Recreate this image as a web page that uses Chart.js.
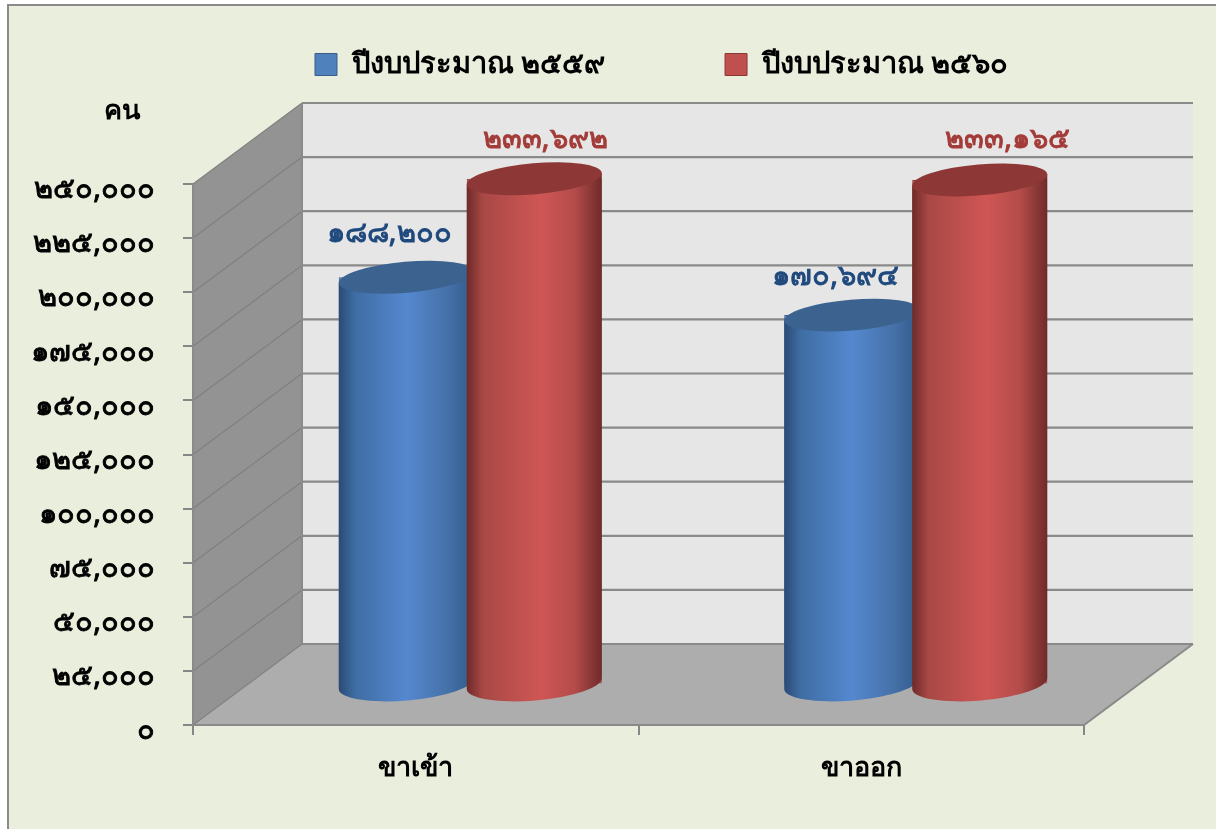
<!DOCTYPE html>
<html>
<head>
<meta charset="utf-8">
<script src="https://cdn.jsdelivr.net/npm/chart.js@4"></script>
<style>
html, body { margin: 0; padding: 0; background: #fff; overflow: hidden; }
#wrap { position: absolute; left: 7px; top: 4px; width: 1209px; height: 825px; background: #eaeedd; border-left: 2px solid #8a8a8a; border-top: 2px solid #8a8a8a; box-sizing: border-box; }
canvas { position: absolute; left: -9px; top: -6px; }
</style>
</head>
<body>
<div id="wrap"><canvas id="chart" width="1216" height="829"></canvas></div>
<script>
// data
const categories = ["ขาเข้า", "ขาออก"];
const seriesNames = ["ปีงบประมาณ ๒๕๕๙", "ปีงบประมาณ ๒๕๖๐"];
const values2559 = [188200, 170694];
const values2560 = [233692, 233165];
const labels2559 = ["๑๘๘,๒๐๐", "๑๗๐,๖๙๔"];
const labels2560 = ["๒๓๓,๖๙๒", "๒๓๓,๑๖๕"];
const yTickLabels = ["๐", "๒๕,๐๐๐", "๕๐,๐๐๐", "๗๕,๐๐๐", "๑๐๐,๐๐๐", "๑๒๕,๐๐๐", "๑๕๐,๐๐๐", "๑๗๕,๐๐๐", "๒๐๐,๐๐๐", "๒๒๕,๐๐๐", "๒๕๐,๐๐๐"];

const FONT = "'Noto Sans', 'DejaVu Sans', sans-serif";
const DX = 109, DY = -81;   // depth of the 3d box
const MID = 0.5;            // bars stand half way in the box
const TILT = -0.085;        // the bar ends look slightly turned
const LEGEND_PAD = 120;     // gap between the two legend items

function cylinderGrad(ctx, x0, x1, stops) {
    const g = ctx.createLinearGradient(x0, 0, x1, 0);
    stops.forEach(s => g.addColorStop(s[0], s[1]));
    return g;
}
const blueStops = [[0, "#2a4a75"], [0.12, "#3f6da3"], [0.5, "#5488cf"], [0.8, "#4672aa"], [1, "#325a8a"]];
const redStops = [[0, "#6e2a28"], [0.12, "#a84846"], [0.55, "#cf5654"], [0.8, "#b34c4a"], [1, "#6f2b29"]];
const labelColors = ["#1f497d", "#a33b38"];
const topColors = ["#3c6390", "#8d3736"];
const labelNudge = [[[-17, -44], [-16, -38]], [[11, -39], [28, -40]]];

const box3d = {
    id: "box3d",
    beforeLayout(chart) {
        // keep the plot below the legend like in the original slide
        const lg = chart.legend;
        if (lg && !lg._patched) {
            const fit = lg.fit;
            lg.fit = function () { fit.call(this); this.height = 184; };
            lg._patched = true;
        }
    },
    afterLayout(chart) {
        const lg = chart.legend;
        lg.left = 315 - LEGEND_PAD;
        lg.right = 1216 + LEGEND_PAD;
        lg.top = 50 - LEGEND_PAD;
    },
    beforeDatasetsDraw(chart) {
        const c = chart.ctx, y = chart.scales.y, a = chart.chartArea;
        const y0 = y.getPixelForValue(0), yTop = y.getPixelForValue(250000);
        // side wall
        c.fillStyle = "#939393";
        c.beginPath();
        c.moveTo(a.left, y0); c.lineTo(a.left + DX, y0 + DY); c.lineTo(a.left + DX, yTop + DY); c.lineTo(a.left, yTop);
        c.closePath(); c.fill();
        // back wall
        c.fillStyle = "#e6e6e6";
        c.fillRect(a.left + DX, yTop + DY, a.right - a.left, y0 - yTop);
        // floor
        c.fillStyle = "#adadad";
        c.beginPath();
        c.moveTo(a.left, y0); c.lineTo(a.right, y0); c.lineTo(a.right + DX, y0 + DY); c.lineTo(a.left + DX, y0 + DY);
        c.closePath(); c.fill();
        // grid lines on both walls
        y.ticks.forEach(t => {
            const p = y.getPixelForValue(t.value);
            c.strokeStyle = "#808080";
            c.lineWidth = 1.2;
            c.beginPath();
            c.moveTo(a.left, p); c.lineTo(a.left + DX, p + DY);
            c.stroke();
            c.lineWidth = 2.2;
            c.strokeStyle = "#8a8a8a";
            c.beginPath();
            c.moveTo(a.left + DX, p + DY); c.lineTo(a.right + DX, p + DY);
            c.stroke();
        });
        c.strokeStyle = "#8a8a8a";
        c.lineWidth = 2;
        c.beginPath();
        c.moveTo(a.left + DX, yTop + DY); c.lineTo(a.left + DX, y0 + DY);
        c.moveTo(a.left, yTop); c.lineTo(a.left, y0); c.lineTo(a.right, y0); c.lineTo(a.right + DX, y0 + DY);
        c.stroke();
    },
    beforeDatasetDraw(chart) {
        chart.ctx.save();
        chart.ctx.translate(DX * MID, DY * MID);
    },
    afterDatasetDraw(chart) {
        chart.ctx.restore();
    },
    afterDatasetsDraw(chart) {
        const c = chart.ctx;
        const ryTop = 15.5, ryBase = 17;
        c.save();
        c.translate(DX * MID, DY * MID);
        [0, 1].forEach(ds => {
            chart.getDatasetMeta(ds).data.forEach(bar => {
                const r = bar.width / 2, l = bar.x - r, rgt = bar.x + r;
                const dyEnd = r * Math.sin(-TILT), rx = r / Math.cos(TILT);
                c.fillStyle = cylinderGrad(c, l, rgt, ds ? redStops : blueStops);
                c.beginPath();
                c.moveTo(l, bar.y + dyEnd);
                c.lineTo(l, bar.base + dyEnd);
                c.ellipse(bar.x, bar.base, rx, ryBase, TILT, Math.PI, 0, true);
                c.lineTo(rgt, bar.y - dyEnd);
                c.closePath();
                c.fill();
                c.fillStyle = topColors[ds];
                c.beginPath();
                c.ellipse(bar.x, bar.y, rx, ryTop, TILT, 0, Math.PI * 2);
                c.fill();
            });
        });
        c.restore();
        // value labels
        c.font = "29px " + FONT;
        c.textAlign = "center";
        c.textBaseline = "middle";
        c.lineWidth = 0.9;
        [labels2559, labels2560].forEach((texts, ds) => {
            chart.getDatasetMeta(ds).data.forEach((bar, i) => {
                const lx = bar.x + DX * MID + labelNudge[ds][i][0], ly = bar.y + DY * MID + labelNudge[ds][i][1];
                c.fillStyle = labelColors[ds];
                c.strokeStyle = labelColors[ds];
                c.fillText(texts[i], lx, ly);
                c.strokeText(texts[i], lx, ly);
            });
        });
        c.fillStyle = "#000";
        c.font = "bold 27px " + FONT;
        c.fillText("คน", 122, 111);
    }
};

new Chart(document.getElementById("chart"), {
    type: "bar",
    data: {
        labels: categories,
        datasets: [
            { label: seriesNames[0], data: values2559, backgroundColor: "#4f81bd", borderColor: "#385d8a", borderWidth: 1, clip: false },
            { label: seriesNames[1], data: values2560, backgroundColor: "#c0504d", borderColor: "#8c3836", borderWidth: 1, clip: false }
        ]
    },
    options: {
        responsive: false,
        animation: false,
        layout: { padding: { left: 0, right: 132, top: 0, bottom: 0 } },
        datasets: { bar: { barPercentage: 1.055, categoryPercentage: 0.5746 } },
        plugins: {
            tooltip: { enabled: false },
            legend: {
                position: "top",
                align: "start",
                labels: {
                    color: "#000",
                    boxWidth: 22, boxHeight: 22, padding: LEGEND_PAD,
                    font: { family: FONT, size: 29, weight: "bold" }
                }
            }
        },
        scales: {
            x: {
                afterFit(s) { s.height = 104; },
                grid: { drawOnChartArea: false, drawTicks: true, tickLength: 10, color: "#868686", lineWidth: 2 },
                border: { display: false },
                ticks: { color: "#000", font: { family: FONT, size: 27, weight: "bold" }, padding: 17 }
            },
            y: {
                min: 0, max: 250000,
                afterFit(s) { s.width = 193; },
                grid: { drawOnChartArea: false, drawTicks: true, tickLength: 10, color: "#868686", lineWidth: 2 },
                border: { display: false },
                ticks: {
                    stepSize: 25000,
                    color: "#000",
                    padding: 28,
                    labelOffset: 6,
                    textStrokeColor: "#000",
                    textStrokeWidth: 0.9,
                    font: { family: FONT, size: 29 },
                    callback: (v, i) => yTickLabels[i]
                }
            }
        }
    },
    plugins: [box3d]
});
</script>
</body>
</html>
